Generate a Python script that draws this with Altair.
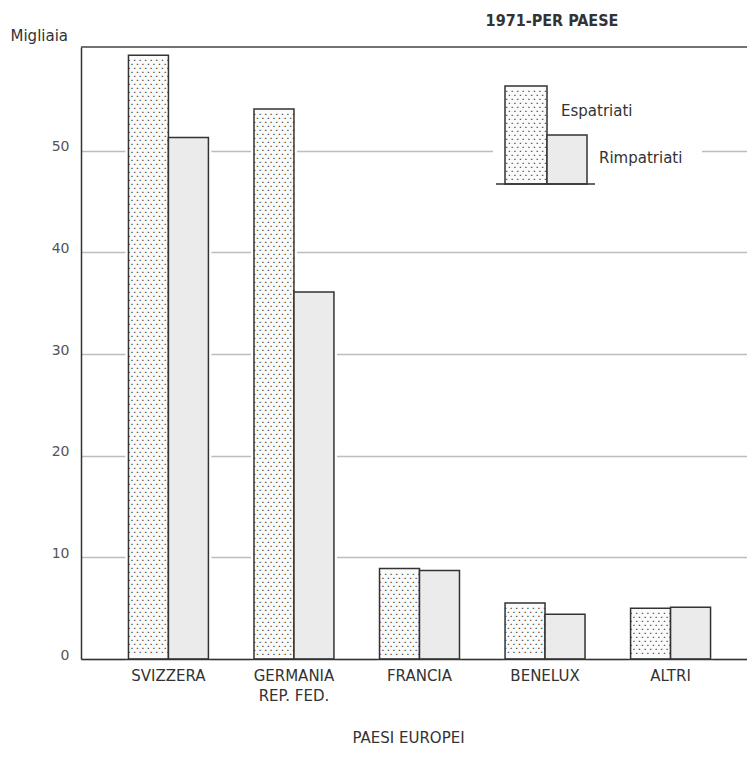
import altair as alt
import pandas as pd

# ---- data ----
countries = ["SVIZZERA", "GERMANIA\nREP. FED.", "FRANCIA", "BENELUX", "ALTRI"]
series = ["Espatriati", "Rimpatriati"]
espatriati = [59.4, 54.1, 8.9, 5.5, 5.0]
rimpatriati = [51.3, 36.1, 8.7, 4.4, 5.1]
y_ticks = [0, 10, 20, 30, 40, 50]

rows = []
for c, e, r in zip(countries, espatriati, rimpatriati):
    rows.append({"country": c, "series": series[0], "value": e})
    rows.append({"country": c, "series": series[1], "value": r})
df = pd.DataFrame(rows)

# ---- layout / style ----
W, H = 666, 612
XR = 677               # band range (runs slightly past the cut-off right edge)
YMAX = 60.2
PX = H / YMAX          # pixels per unit
LH = 4.0               # dot row spacing (px)
NB = "\u00a0"
DOT = "\u2022"
DOT_A = NB.join([DOT] * 8)                 # 15 chars
DOT_B = NB + NB.join([DOT] * 7) + NB       # 15 chars
FONT = "DejaVu Sans"
FILL_E = "#fbfbfb"
FILL_R = "#ebebeb"
INK = "#333333"
DOTC = "#333333"

x_enc = alt.X(
    "country:N", sort=countries,
    scale=alt.Scale(paddingInner=0.363, paddingOuter=0.378, range=[0, XR]),
    axis=alt.Axis(
        title="PAESI EUROPEI", labelAngle=0, ticks=False,
        labelExpr="split(datum.label, '\\n')",
        labelFont=FONT, labelFontSize=15, labelColor=INK, labelPadding=9,
        labelLineHeight=20, domainColor=INK, domainWidth=1.5,
        titleFont=FONT, titleFontSize=15, titleFontWeight="normal",
        titleColor=INK, titleY=78, titleX=327, titleBaseline="middle",
        zindex=1,
    ),
)
y_enc = alt.Y(
    "value:Q",
    scale=alt.Scale(domain=[0, YMAX], nice=False),
    axis=alt.Axis(
        values=y_ticks, ticks=False, grid=True, gridColor="#bdbdbd",
        gridWidth=1.5, domainColor=INK, domainWidth=1.5,
        labelFont=FONT, labelFontSize=14, labelColor="#555555",
        labelPadding=12, labelOffset=-4,
        title="Migliaia", titleAngle=0, titleX=-71, titleY=-12,
        titleAlign="left", titleBaseline="middle", titleFont=FONT,
        titleFontSize=15, titleFontWeight="normal", titleColor=INK,
    ),
)
off_enc = alt.XOffset("series:N", sort=series)

base = alt.Chart(df).encode(x=x_enc, y=y_enc, xOffset=off_enc)

halo = base.mark_bar(fill="white", stroke="white", strokeWidth=6)
bars = base.mark_bar(stroke=INK, strokeWidth=1.5).encode(
    fill=alt.Fill("series:N", scale=alt.Scale(domain=series, range=[FILL_E, FILL_R]), legend=None)
)
dots = (
    base.transform_filter(alt.datum.series == series[0])
    .transform_calculate(nrows=f"floor((datum.value * {PX} - 5) / {LH})")
    .transform_calculate(
        dots=f"slice(split(pad('', ceil(datum.nrows / 2), '{DOT_A}|{DOT_B}|'), '|'), 0, datum.nrows)"
    )
    .mark_text(font="DejaVu Sans Mono", fontSize=4.6, lineHeight=LH,
               baseline="top", align="center", dy=3, color=DOTC)
    .encode(text="dots:N")
)

one = alt.Data(values=[{}])

top_rule = alt.Chart(one).mark_rule(color="#444444", strokeWidth=1.5).encode(
    x=alt.value(0), x2=alt.value(W), y=alt.value(0)
)
title = alt.Chart(one).mark_text(
    text="1971-PER PAESE", font="DejaVu Sans Condensed", fontWeight="bold",
    fontSize=16, color=INK, align="center", baseline="middle"
).encode(x=alt.value(471), y=alt.value(-26))

# legend (drawn inside the plot, as in the reference)
leg_bg = alt.Chart(one).mark_rect(fill="white").encode(
    x=alt.value(412), x2=alt.value(621), y=alt.value(30), y2=alt.value(150)
)
leg_e = alt.Chart(one).mark_rect(fill=FILL_E, stroke=INK, strokeWidth=1.5).encode(
    x=alt.value(424), x2=alt.value(466), y=alt.value(39), y2=alt.value(137)
)
leg_r = alt.Chart(one).mark_rect(fill=FILL_R, stroke=INK, strokeWidth=1.5).encode(
    x=alt.value(466), x2=alt.value(506), y=alt.value(88), y2=alt.value(137)
)
leg_dots_txt = [DOT_A if i % 2 == 0 else DOT_B for i in range(int((98 - 5) // LH))]
leg_dots = alt.Chart(one).mark_text(
    text=leg_dots_txt, font="DejaVu Sans Mono", fontSize=4.6, lineHeight=LH,
    baseline="top", align="center", color=DOTC
).encode(x=alt.value(445), y=alt.value(42))
leg_base = alt.Chart(one).mark_rule(color=INK, strokeWidth=1.5).encode(
    x=alt.value(415), x2=alt.value(514), y=alt.value(137)
)
leg_t1 = alt.Chart(one).mark_text(
    text=series[0], font=FONT, fontSize=15, color=INK, align="left", baseline="middle"
).encode(x=alt.value(480), y=alt.value(64))
leg_t2 = alt.Chart(one).mark_text(
    text=series[1], font=FONT, fontSize=15, color=INK, align="left", baseline="middle"
).encode(x=alt.value(518), y=alt.value(111))

chart = (
    alt.layer(halo, bars, dots, top_rule, title,
              leg_bg, leg_e, leg_r, leg_dots, leg_base, leg_t1, leg_t2)
    .properties(
        width=W, height=H,
        padding={"left": 73, "top": 39, "right": 0, "bottom": 90},
        autosize=alt.AutoSizeParams(type="none"),
        background="white",
    )
    .configure_view(stroke=None)
)

chart.save("out.html", embed_options={"renderer": "svg", "actions": False})
